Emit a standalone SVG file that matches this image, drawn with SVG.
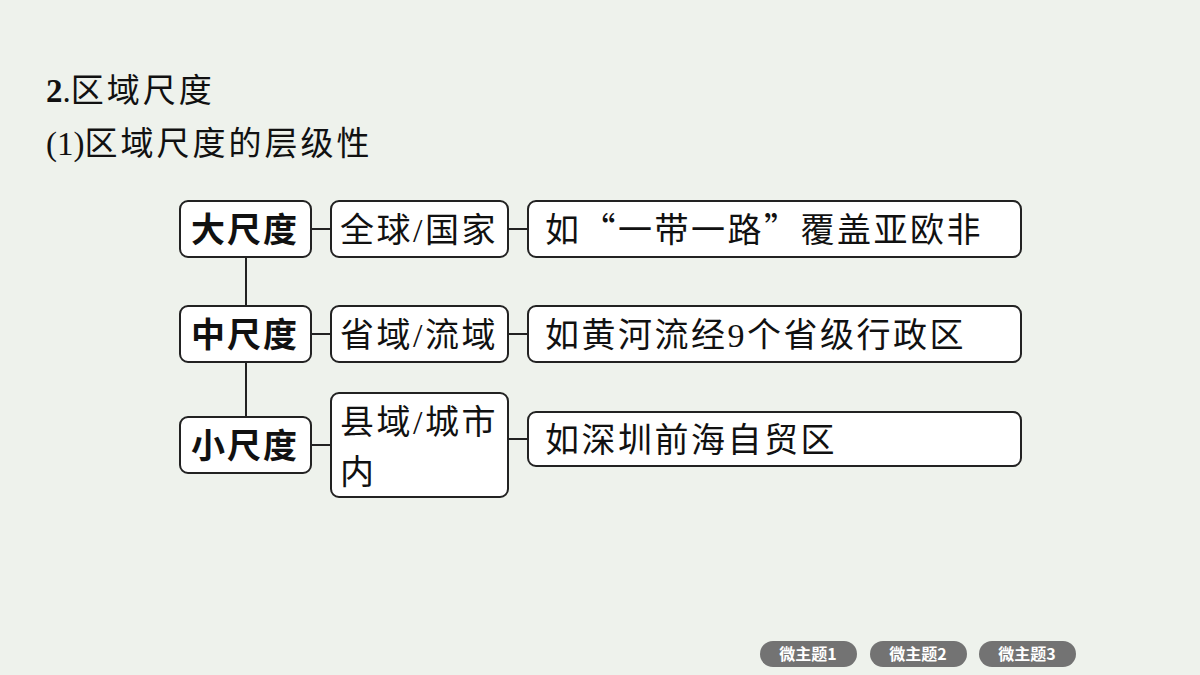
<svg xmlns="http://www.w3.org/2000/svg" width="1200" height="675" viewBox="0 0 1200 675">
<style>
.b{fill:#fff;stroke:#222;stroke-width:2}
.t{font-family:"Liberation Serif","Noto Sans CJK SC",serif;font-size:34px;fill:#111;letter-spacing:2.5px}
.q{font-family:"Noto Sans CJK SC",sans-serif}
.h{font-family:"Noto Sans CJK SC",sans-serif;font-size:34px;font-weight:bold;fill:#111;letter-spacing:2px}
.p{fill:#737373}
.pt{font-family:"Noto Sans CJK SC",sans-serif;font-size:16px;font-weight:bold;fill:#fff;text-anchor:middle}
.c{stroke:#222;stroke-width:2;fill:none}
</style>
<rect width="1200" height="675" fill="#eef2ec"/>
<text x="46" y="102" font-family="Liberation Serif,Noto Sans CJK SC,serif" font-size="33" font-weight="bold" fill="#111">2<tspan font-weight="normal">.</tspan><tspan font-family="Noto Sans CJK SC,sans-serif" font-weight="normal" letter-spacing="3">区域尺度</tspan></text>
<text x="46" y="155" font-family="Liberation Serif,Noto Sans CJK SC,serif" font-size="33" fill="#111">(1)<tspan font-family="Noto Sans CJK SC,sans-serif" letter-spacing="3">区域尺度的层级性</tspan></text>
<g id="connectors">
<path class="c" d="M246 257V306M246 362V417M311 229H331M508 229H528M311 334H331M508 334H528M311 445H331M508 439H528"/>
</g>
<g id="n1"><rect class="b" x="180" y="201" width="131" height="56" rx="8"/><text class="h" x="191" y="242">大尺度</text></g>
<g id="n2"><rect class="b" x="331" y="201" width="177" height="56" rx="8"/><text class="t" x="340" y="242">全球/国家</text></g>
<g id="n3"><rect class="b" x="528" y="201" width="493" height="56" rx="8"/><text class="t" x="545" y="242">如<tspan class="q">“</tspan>一带一路<tspan class="q">”</tspan>覆盖亚欧非</text></g>
<g id="n4"><rect class="b" x="180" y="306" width="131" height="56" rx="8"/><text class="h" x="191" y="347">中尺度</text></g>
<g id="n5"><rect class="b" x="331" y="306" width="177" height="56" rx="8"/><text class="t" x="340" y="347">省域/流域</text></g>
<g id="n6"><rect class="b" x="528" y="306" width="493" height="56" rx="8"/><text class="t" x="545" y="347">如黄河流经9个省级行政区</text></g>
<g id="n7"><rect class="b" x="180" y="417" width="131" height="56" rx="8"/><text class="h" x="191" y="458">小尺度</text></g>
<g id="n8"><rect class="b" x="331" y="393" width="177" height="104" rx="8"/><text class="t" x="340" y="434">县域/城市</text><text class="t" x="340" y="484">内</text></g>
<g id="n9"><rect class="b" x="528" y="412" width="493" height="54" rx="8"/><text class="t" x="545" y="452">如深圳前海自贸区</text></g>
<g id="pills">
<rect class="p" x="760" y="641" width="97" height="26" rx="13"/><text class="pt" x="808" y="660">微主题1</text>
<rect class="p" x="870" y="641" width="97" height="26" rx="13"/><text class="pt" x="918" y="660">微主题2</text>
<rect class="p" x="979" y="641" width="97" height="26" rx="13"/><text class="pt" x="1027" y="660">微主题3</text>
</g>
</svg>
